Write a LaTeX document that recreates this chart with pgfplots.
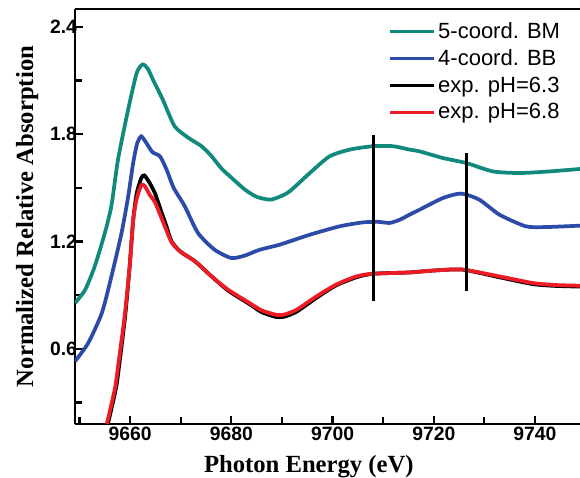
\documentclass[border=0pt]{standalone}
\usepackage{fontspec}
\setmainfont{Liberation Serif}
\newfontfamily\legfont{Liberation Sans}
\usepackage{pgfplots}
\pgfplotsset{compat=1.18}
\usetikzlibrary{calc}

\definecolor{bmteal}{RGB}{17,137,125}
\definecolor{bbblue}{RGB}{44,74,168}
\definecolor{expred}{RGB}{237,28,36}

\begin{document}
\begin{tikzpicture}
\begin{axis}[scale only axis,width=378.75pt,height=311.25pt,
   xmin=9649.1,xmax=9748.9,ymin=0.18,ymax=2.5,
   axis x line*=bottom, axis y line*=left,
   axis line style={line width=2.2pt},
   tick align=inside, tick style={line width=1.6pt,black},
   major tick length=6pt, minor tick length=5pt,
   xtick={9660,9680,9700,9720,9740}, minor xtick={9650,9670,9690,9710,9730},
   ytick={0.6,1.2,1.8,2.4}, minor ytick={0.3,0.9,1.5,2.1},
   yticklabel style={/pgf/number format/fixed,/pgf/number format/fixed zerofill,
     /pgf/number format/precision=1,xshift=5pt},
   xticklabel style={/pgf/number format/1000 sep={},yshift=1pt},
   /pgf/number format/assume math mode=true,
   ticklabel style={font=\legfont\bfseries\fontsize{14.5}{14.5}\selectfont},
   xlabel={Photon Energy (eV)}, ylabel={Normalized Relative Absorption},
   label style={font=\bfseries\fontsize{18.5}{18.5}\selectfont},
   xlabel style={yshift=-4pt,xshift=-14pt}, ylabel style={yshift=2pt},
   legend style={draw=none,fill=none,at={(0.62,0.975)},anchor=north west,
     font=\legfont\fontsize{16.5}{20}\selectfont,row sep=3pt,inner sep=0pt},
   legend cell align=left,
   legend image code/.code={\draw[#1,line width=2.4pt] (0pt,0pt) -- (33pt,0pt);},
   every axis plot/.append style={line width=2.8pt,smooth,tension=0.4},
   clip=true]
\addplot[bmteal] coordinates {
 (9649.1,0.856)(9651.1,0.93)(9653,1.061)(9655,1.248)(9656.3,1.40)(9657.6,1.658)
 (9659.6,1.937)(9661.3,2.143)(9662.5,2.19)(9663.5,2.165)(9664.6,2.10)(9666.5,1.99)
 (9668.8,1.844)(9671.5,1.78)(9674.1,1.733)(9676,1.68)(9678,1.61)(9679.7,1.565)
 (9682.7,1.49)(9685,1.45)(9687.6,1.434)(9689.5,1.45)(9691.5,1.48)(9695.5,1.583)
 (9699.4,1.676)(9703.4,1.714)(9708,1.733)(9711.9,1.733)(9715.2,1.714)(9717.2,1.704)
 (9721.8,1.667)(9726.4,1.639)(9731.7,1.592)(9737,1.583)(9742.9,1.592)(9749,1.606)};
\addlegendentry{5-coord. BM}
\addplot[bbblue] coordinates {
 (9649.1,0.53)(9651.7,0.632)(9654.4,0.80)(9656.3,1.005)(9658.3,1.248)(9659.6,1.45)
 (9660.6,1.64)(9661.4,1.75)(9662.2,1.788)(9663.2,1.751)(9664.4,1.70)(9665.9,1.676)
 (9667.2,1.602)(9668.6,1.50)(9670.8,1.397)(9673.4,1.248)(9676.7,1.154)(9680,1.108)
 (9682.6,1.121)(9685.6,1.154)(9689.5,1.182)(9695.5,1.238)(9701.4,1.285)(9706,1.307)
 (9709,1.31)(9711.3,1.304)(9713.3,1.322)(9715.2,1.35)(9717.2,1.378)(9721.8,1.443)
 (9725.4,1.468)(9729,1.434)(9733,1.35)(9738.2,1.285)(9742.2,1.281)(9749,1.289)};
\addlegendentry{4-coord. BB}
\addplot[black] coordinates {
 (9655.6,0.18)(9657.2,0.38)(9657.8,0.5)(9659,0.78)(9659.9,1.06)(9660.6,1.32)
 (9661.3,1.47)(9662.2,1.555)(9662.8,1.57)(9663.8,1.53)(9664.9,1.47)(9666,1.38)
 (9667,1.30)(9668.2,1.20)(9670.1,1.14)(9672.8,1.09)(9676.1,1.005)(9679.4,0.925)
 (9683.6,0.85)(9686,0.805)(9688.9,0.778)(9690.5,0.78)(9692.9,0.808)(9696.8,0.885)
 (9700.7,0.955)(9704.7,1.0)(9708,1.02)(9715,1.027)(9720,1.038)(9725.7,1.043)
 (9733,1.0)(9739.6,0.962)(9744,0.952)(9749,0.948)};
\addlegendentry{exp. pH=6.3}
\addplot[expred] coordinates {
 (9655.4,0.18)(9657,0.38)(9657.6,0.5)(9658.9,0.78)(9659.9,1.06)(9660.6,1.32)
 (9661.3,1.44)(9662.2,1.515)(9662.9,1.51)(9663.9,1.46)(9664.9,1.42)(9666.5,1.31)
 (9668.2,1.195)(9670.1,1.14)(9672.8,1.09)(9676.1,1.005)(9679.4,0.93)(9683.6,0.856)
 (9686,0.815)(9688.9,0.79)(9690.5,0.792)(9692.9,0.819)(9696.8,0.893)(9700.7,0.959)
 (9704.7,1.005)(9708,1.02)(9715.2,1.027)(9720,1.038)(9725.7,1.043)(9733,1.005)
 (9739.6,0.968)(9744,0.957)(9749,0.953)};
\addlegendentry{exp. pH=6.8}
\addplot[black,line width=2.2pt,sharp plot,forget plot] coordinates {(9708,0.865)(9708,1.797)};
\addplot[black,line width=2.2pt,sharp plot,forget plot] coordinates {(9726.5,0.921)(9726.5,1.695)};
\draw[line width=2.2pt] (rel axis cs:0,1) -- (rel axis cs:1,1);
\end{axis}
\pgfresetboundingbox
\useasboundingbox ($(current axis.south west)+(-56.25pt,-40.5pt)$) rectangle ($(current axis.north east)+(0pt,6.75pt)$);
\end{tikzpicture}
\end{document}
